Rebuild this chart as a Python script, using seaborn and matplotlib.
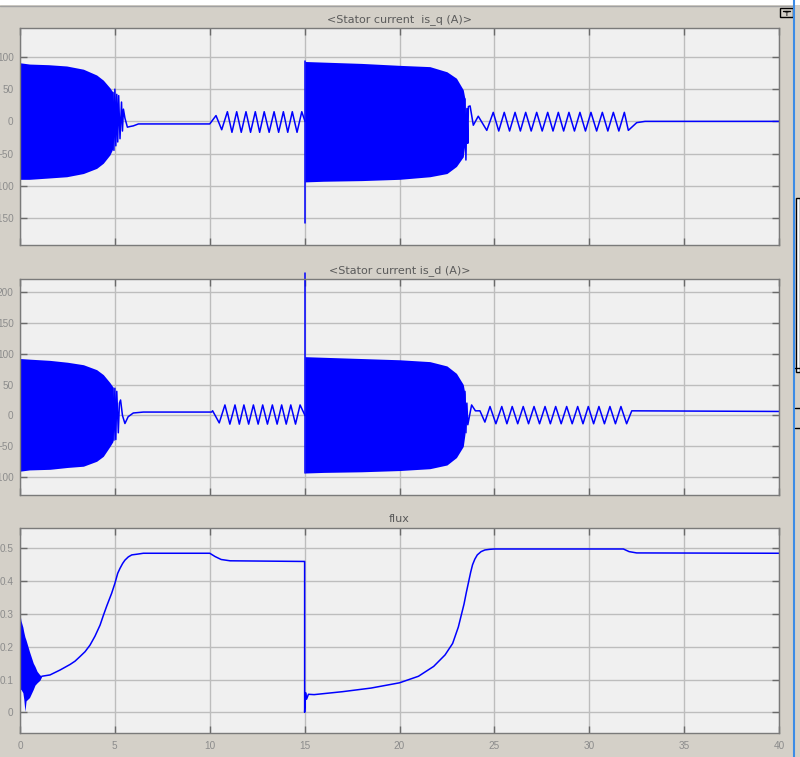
import numpy as np
import pandas as pd
import matplotlib
matplotlib.use("Agg")
import matplotlib.pyplot as plt
from matplotlib.patches import Rectangle
from matplotlib.lines import Line2D
import seaborn as sns

# ---------------- data (time in s) ----------------
# <Stator current is_q (A)>
q_band1_t = [0.0, 0.5, 1.5, 2.46, 3.34, 4.04, 4.39, 4.74, 4.9]
q_band1_hi = [91, 89, 88, 86, 81, 72, 64, 52, 45]
q_band1_lo = [-90, -90, -88, -86, -81, -73, -65, -52, -42]
q_band2_t = [15.02, 16.0, 18.0, 20.0, 21.6, 22.5, 23.0, 23.36, 23.45]
q_band2_hi = [93, 92, 90, 87, 85, 77, 67, 49, 35]
q_band2_lo = [-94, -93, -92, -90, -86, -81, -70, -55, -34]
q_spike1_t = [0.0, 0.0]
q_spike1_v = [-90, 113]
q_spike2_t = [15.02, 15.02]
q_spike2_v = [93, -158]
q_mid_t = [4.9, 4.95, 5.0, 5.05, 5.1, 5.15, 5.2, 5.27, 5.35, 5.4,
           5.45, 5.53, 5.66, 5.8, 5.97, 6.24, 10.0, 10.33, 10.63,
           10.93, 11.17, 11.42, 11.66, 11.91, 12.15, 12.40, 12.63, 12.87, 13.13,
           13.39, 13.63, 13.88, 14.11, 14.35, 14.6, 14.85, 15.02]
q_mid_v = [45, -45, 50, -38, 42, -32, 40, -27, 30, -15,
           19, 5, -9, -8, -7, -4, -4, 9, -13,
           15, -17, 15, -17, 15, -17, 15, -17, 15, -17,
           15, -17, 15, -17, 15, -17, 15, 0]
q_end_t = [23.45, 23.5, 23.55, 23.6, 23.63, 23.72, 23.89, 24.15, 24.6,
           24.94, 25.23, 25.52, 25.8, 26.09, 26.37, 26.65, 26.94, 27.23, 27.52,
           27.81, 28.09, 28.37, 28.65, 28.93, 29.22, 29.51, 29.8, 30.09, 30.39,
           30.69, 30.98, 31.27, 31.56, 31.85, 32.06, 32.5, 32.94, 40.0]
q_end_v = [35, -60, 20, -34, 23, 24, -6, 8, -14,
           14, -15, 14, -15, 14, -15, 14, -15, 14, -15,
           14, -15, 14, -15, 14, -15, 14, -15, 14, -15,
           14, -15, 14, -15, 14, -14, -2, 0, 0]

# <Stator current is_d (A)>
d_band1_t = [0.0, 0.5, 1.58, 2.5, 3.34, 4.04, 4.39, 4.74, 4.9]
d_band1_hi = [92, 91, 89, 86, 82, 74, 66, 53, 46]
d_band1_lo = [-90, -88, -87, -84, -82, -74, -66, -50, -42]
d_band2_t = [15.02, 16.0, 18.0, 20.0, 21.6, 22.5, 23.0, 23.36, 23.45]
d_band2_hi = [95, 94, 92, 90, 87, 80, 68, 50, 35]
d_band2_lo = [-93, -92, -91, -89, -86, -80, -68, -50, -30]
d_spike2_t = [15.02, 15.02]
d_spike2_v = [-93, 230]
d_mid_t = [4.9, 4.95, 5.0, 5.05, 5.1, 5.18, 5.24, 5.3, 5.4, 5.53,
           5.7, 5.97, 6.5, 10.1, 10.15, 10.5,
           10.8, 11.06, 11.33, 11.56, 11.8, 12.05, 12.3, 12.55, 12.79,
           13.04, 13.3, 13.55, 13.79, 14.03, 14.27, 14.52, 14.76, 15.02]
d_mid_v = [44, -40, 44, -39, 39, -28, 20, 25, 0, -13,
           -2, 4, 5.5, 5.5, 7.6, -12,
           17, -14, 17, -14, 17, -14, 17, -14, 17,
           -14, 17, -14, 17, -14, 17, -14, 17, 0]
d_end_t = [23.45, 23.5, 23.55, 23.6, 23.8, 24.0, 24.24, 24.5,
           24.77, 25.08, 25.39, 25.66, 25.94, 26.23, 26.52, 26.8, 27.09,
           27.38, 27.67, 27.95, 28.23, 28.52, 28.81, 29.1, 29.39, 29.67,
           29.95, 30.23, 30.51, 30.8, 31.09, 31.38, 31.67, 31.97, 32.24, 40.0]
d_end_v = [39, -28, 20, -15, 17, 7.5, 7.5, -10.7,
           14.5, -13.4, 14.5, -13.4, 14.5, -13.4, 14.5, -13.4, 14.5,
           -13.4, 14.5, -13.4, 14.5, -13.4, 14.5, -13.4, 14.5, -13.4,
           14.5, -13.4, 14.5, -13.4, 14.5, -13.4, 14.5, -13.4, 7.5, 6.5]

# flux
f_band_t = [0.0, 0.05, 0.15, 0.2, 0.26, 0.32, 0.5, 0.7, 0.79, 0.9, 1.05, 1.15]
f_band_hi = [0.30, 0.28, 0.26, 0.245, 0.23, 0.22, 0.185, 0.15, 0.14, 0.125, 0.114, 0.11]
f_band_lo = [0.07, 0.07, 0.06, 0.04, 0.003, 0.035, 0.045, 0.07, 0.083, 0.09, 0.098, 0.11]
f_spike_t = [0.0, 0.0]
f_spike_v = [0.0, 0.3]
f_t = [1.15, 1.58, 2.11, 2.64, 2.9, 3.16, 3.43, 3.69, 3.95, 4.22,
       4.39, 4.57, 4.83, 5.0, 5.15, 5.27, 5.41, 5.53, 5.71, 5.89,
       6.15, 6.5, 10.0, 10.28, 10.6, 11.07, 15.0, 15.0, 15.05, 15.1,
       15.2, 15.5, 17.0, 18.5, 20.0, 21.0, 21.8, 22.4, 22.8, 23.1,
       23.25, 23.4, 23.52, 23.65, 23.75, 23.85, 23.97, 24.1, 24.3, 24.5,
       24.75, 25.0, 31.8, 32.1, 32.5, 40.0]
f_v = [0.11, 0.114, 0.129, 0.146, 0.156, 0.17, 0.185, 0.205, 0.232, 0.266,
       0.295, 0.324, 0.363, 0.393, 0.424, 0.439, 0.454, 0.464, 0.474, 0.48,
       0.482, 0.485, 0.485, 0.475, 0.466, 0.462, 0.46, 0.0, 0.06, 0.04,
       0.055, 0.054, 0.063, 0.074, 0.09, 0.11, 0.14, 0.175, 0.21, 0.26,
       0.295, 0.33, 0.365, 0.4, 0.427, 0.45, 0.467, 0.48, 0.49, 0.495,
       0.497, 0.498, 0.498, 0.49, 0.486, 0.485]

titles = ["<Stator current  is_q (A)>", "<Stator current is_d (A)>", "flux"]
x_ticks = [0, 5, 10, 15, 20, 25, 30, 35, 40]
flux_ticks = [0, 0.1, 0.2, 0.3, 0.4, 0.5]
flux_labels = ["0", "0.1", "0.2", "0.3", "0.4", "0.5"]

BLUE = "#0000ff"
BG = "#d4d0c8"

sns.set_theme(style="whitegrid", rc={
    "axes.facecolor": "#f0f0f0",
    "axes.edgecolor": "#7a7a7a",
    "axes.linewidth": 1.0,
    "grid.color": "#bdbdbd",
    "grid.linewidth": 1.0,
    "figure.facecolor": BG,
})
plt.rcParams["font.family"] = ["DejaVu Sans"]

W, H = 800, 757
fig = plt.figure(figsize=(W / 100, H / 100), dpi=100)


def box(top, bottom):
    return [20 / W, 1 - bottom / H, 759 / W, (bottom - top) / H]


def segs(*pairs):
    parts = []
    for i, (t, v) in enumerate(pairs):
        parts.append(pd.DataFrame({"t": t, "v": v, "seg": i}))
    return pd.concat(parts, ignore_index=True)


def trace(ax, df):
    sns.lineplot(data=df, x="t", y="v", units="seg", estimator=None, sort=False,
                 color=BLUE, lw=1.1, ax=ax, legend=False,
                 solid_joinstyle="round")


ax1 = fig.add_axes(box(28, 245))
ax2 = fig.add_axes(box(279, 495))
ax3 = fig.add_axes(box(528, 733))

# is_q
ax1.fill_between(q_band1_t, q_band1_lo, q_band1_hi, color=BLUE, lw=0)
ax1.fill_between(q_band2_t, q_band2_lo, q_band2_hi, color=BLUE, lw=0)
trace(ax1, segs((q_spike1_t, q_spike1_v), (q_spike2_t, q_spike2_v),
                (q_mid_t, q_mid_v), (q_end_t, q_end_v)))
ax1.set_ylim(-192, 145)
ax1.set_yticks([-150, -100, -50, 0, 50, 100])

# is_d
ax2.fill_between(d_band1_t, d_band1_lo, d_band1_hi, color=BLUE, lw=0)
ax2.fill_between(d_band2_t, d_band2_lo, d_band2_hi, color=BLUE, lw=0)
trace(ax2, segs((d_mid_t, d_mid_v), (d_end_t, d_end_v)))
trace(ax2, segs((d_spike2_t, d_spike2_v)))
ax2.lines[-1].set_clip_on(False)  # the spike runs past the top frame
ax2.set_ylim(-128.5, 220.5)
ax2.set_yticks([-100, -50, 0, 50, 100, 150, 200])

# flux
ax3.fill_between(f_band_t, f_band_lo, f_band_hi, color=BLUE, lw=0)
trace(ax3, segs((f_spike_t, f_spike_v), (f_t, f_v)))
ax3.set_ylim(-0.063, 0.562)
ax3.set_yticks(flux_ticks)
ax3.set_yticklabels(flux_labels)

for ax, title in zip([ax1, ax2, ax3], titles):
    ax.set_xlim(0, 40)
    ax.set_xticks(x_ticks)
    ax.set_xlabel("")
    ax.set_ylabel("")
    ax.set_title(title, fontsize=8, color="#5a5a5a", pad=4)
    ax.tick_params(direction="in", length=5, width=1, color="#6a6a6a",
                   top=True, right=True, left=True, bottom=True,
                   labelcolor="#8c8c8c", labelsize=7.2, pad=4.5)
    for lab in ax.get_xticklabels() + ax.get_yticklabels():
        lab.set_fontfamily("Liberation Sans")
    for sp in ax.spines.values():
        sp.set_visible(True)
ax1.tick_params(labelbottom=False)
ax2.tick_params(labelbottom=False)
ax3.set_xticklabels([str(v) for v in x_ticks], fontfamily="Liberation Sans")
ax3.tick_params(axis="x", pad=6)

# window chrome
fig.add_artist(Rectangle((0, 1 - 5 / H), 1, 5 / H, transform=fig.transFigure,
                         color="white", lw=0))
fig.add_artist(Line2D([0, 793 / W], [1 - 5.5 / H] * 2, transform=fig.transFigure,
                      color="#a0a0a0", lw=1))
fig.add_artist(Rectangle((780 / W, 1 - 17 / H), 13 / W, 9 / H,
                         transform=fig.transFigure, fill=False,
                         edgecolor="black", lw=1))
fig.add_artist(Line2D([783 / W, 790 / W], [1 - 11 / H] * 2,
                      transform=fig.transFigure, color="black", lw=1))
fig.text(786.5 / W, 1 - 14.5 / H, "↑", fontsize=5, ha="center", va="center",
         color="black", fontweight="bold")
fig.add_artist(Line2D([794 / W] * 2, [0, 1], transform=fig.transFigure,
                      color="#3c8ce6", lw=1.5))
fig.add_artist(Rectangle((796 / W, 1 - 372 / H), 4 / W, 174 / H,
                         transform=fig.transFigure, facecolor="white",
                         edgecolor="black", lw=1))
for yy in [368, 408, 428]:
    fig.add_artist(Line2D([795 / W, 1], [1 - yy / H] * 2,
                          transform=fig.transFigure, color="black", lw=1))

fig.savefig("out.png", dpi=100, facecolor=BG)
